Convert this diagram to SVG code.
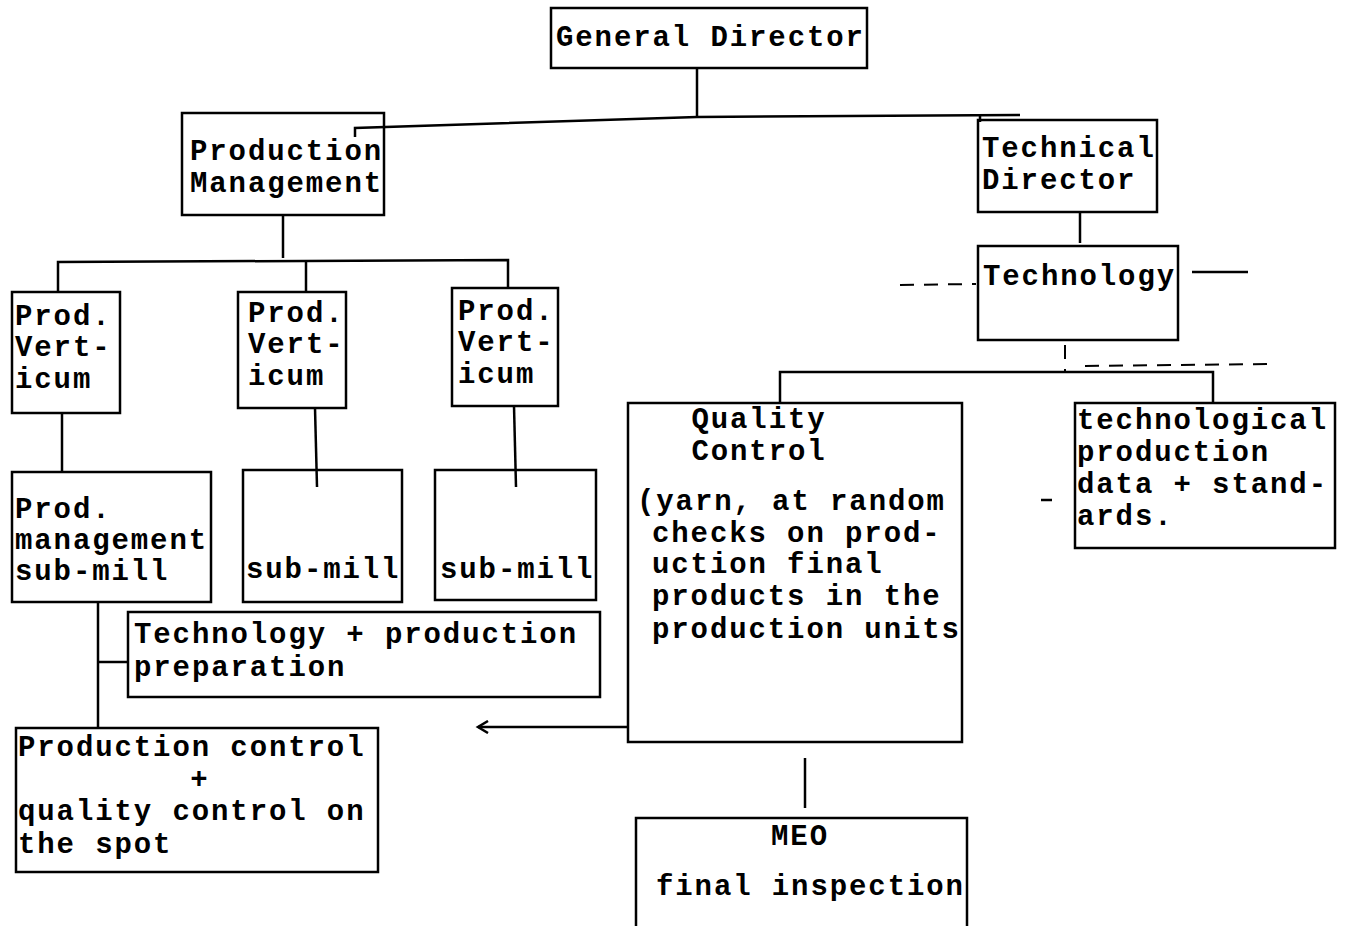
<svg xmlns="http://www.w3.org/2000/svg" width="1346" height="926" viewBox="0 0 1346 926">
<style>
.b{fill:none;stroke:#000;stroke-width:2.5}
.c{fill:none;stroke:#000;stroke-width:2.5}
.d{fill:none;stroke:#000;stroke-width:2;stroke-dasharray:14 10}
text{font-family:"Liberation Mono","Courier New",monospace;font-size:29px;letter-spacing:1.9px;font-weight:bold;fill:#000}
.m{text-anchor:middle}
</style>
<defs>
<marker id="ah" markerWidth="14" markerHeight="14" refX="11" refY="7" orient="auto" markerUnits="userSpaceOnUse">
<path d="M1,1 L11,7 L1,13" fill="none" stroke="#000" stroke-width="2.5"/>
</marker>
</defs>
<rect width="1346" height="926" fill="#fff"/>
<g id="connectors">
<polyline class="c" points="697,68 697,117"/>
<polyline class="c" points="355,137 355,128 697,117 1020,115"/>
<polyline class="c" points="980,116 980,122"/>
<polyline class="c" points="283,215 283,258"/>
<polyline class="c" points="58,292 58,262 508,260 508,288"/>
<polyline class="c" points="306,262 306,292"/>
<polyline class="c" points="62,413 62,472"/>
<polyline class="c" points="315,408 317,487"/>
<polyline class="c" points="514,406 516,487"/>
<polyline class="c" points="98,602 98,728"/>
<polyline class="c" points="98,662 128,662"/>
<line class="c" x1="628" y1="727" x2="478" y2="727" marker-end="url(#ah)"/>
<polyline class="c" points="805,758 805,808"/>
<polyline class="c" points="1080,212 1080,243"/>
<polyline class="d" points="900,285 976,284"/>
<polyline class="c" points="1192,272 1248,272"/>
<polyline class="d" points="1065,345 1065,372"/>
<polyline class="c" points="780,403 780,372 1213,372 1213,403"/>
<polyline class="d" points="1085,366 1270,364"/>
<line class="c" x1="1041" y1="500" x2="1052" y2="500"/>
</g>
<g id="general-director">
<rect class="b" x="551" y="8" width="316" height="60"/>
<text x="556" y="46">General Director</text>
</g>
<g id="production-management">
<rect class="b" x="182" y="113" width="202" height="102"/>
<text x="190" y="160">Production</text>
<text x="190" y="192">Management</text>
</g>
<g id="technical-director">
<rect class="b" x="978" y="120" width="179" height="92"/>
<text x="982" y="157">Technical</text>
<text x="982" y="189">Director</text>
</g>
<g id="technology">
<rect class="b" x="978" y="246" width="200" height="94"/>
<text x="983" y="285">Technology</text>
</g>
<g id="prod-verticum-1">
<rect class="b" x="12" y="292" width="108" height="121"/>
<text x="15" y="325">Prod.</text>
<text x="15" y="356">Vert-</text>
<text x="15" y="388">icum</text>
</g>
<g id="prod-verticum-2">
<rect class="b" x="238" y="292" width="108" height="116"/>
<text x="248" y="322">Prod.</text>
<text x="248" y="353">Vert-</text>
<text x="248" y="385">icum</text>
</g>
<g id="prod-verticum-3">
<rect class="b" x="452" y="288" width="106" height="118"/>
<text x="458" y="320">Prod.</text>
<text x="458" y="351">Vert-</text>
<text x="458" y="383">icum</text>
</g>
<g id="prod-management-sub-mill">
<rect class="b" x="12" y="472" width="199" height="130"/>
<text x="15" y="518">Prod.</text>
<text x="15" y="549">management</text>
<text x="15" y="580">sub-mill</text>
</g>
<g id="sub-mill-2">
<rect class="b" x="243" y="470" width="159" height="132"/>
<text x="246" y="578">sub-mill</text>
</g>
<g id="sub-mill-3">
<rect class="b" x="435" y="470" width="161" height="130"/>
<text x="440" y="578">sub-mill</text>
</g>
<g id="technology-production-preparation">
<rect class="b" x="128" y="612" width="472" height="85"/>
<text x="134" y="643">Technology + production</text>
<text x="134" y="676">preparation</text>
</g>
<g id="production-control">
<rect class="b" x="16" y="728" width="362" height="144"/>
<text x="18" y="756">Production control</text>
<text x="200" y="788" class="m">+</text>
<text x="18" y="820">quality control on</text>
<text x="18" y="853">the spot</text>
</g>
<g id="quality-control">
<rect class="b" x="628" y="403" width="334" height="339"/>
<text x="759" y="428" class="m">Quality</text>
<text x="759" y="460" class="m">Control</text>
<text x="637" y="510">(yarn, at random</text>
<text x="652" y="542">checks on prod-</text>
<text x="652" y="573">uction final</text>
<text x="652" y="605">products in the</text>
<text x="652" y="638">production units</text>
</g>
<g id="technological-production-data">
<rect class="b" x="1075" y="403" width="260" height="145"/>
<text x="1077" y="429">technological</text>
<text x="1077" y="461">production</text>
<text x="1077" y="493">data + stand-</text>
<text x="1077" y="525">ards.</text>
</g>
<g id="meo">
<rect class="b" x="636" y="818" width="331" height="120"/>
<text x="800" y="845" class="m">MEO</text>
<text x="656" y="895">final inspection</text>
</g>
</svg>
